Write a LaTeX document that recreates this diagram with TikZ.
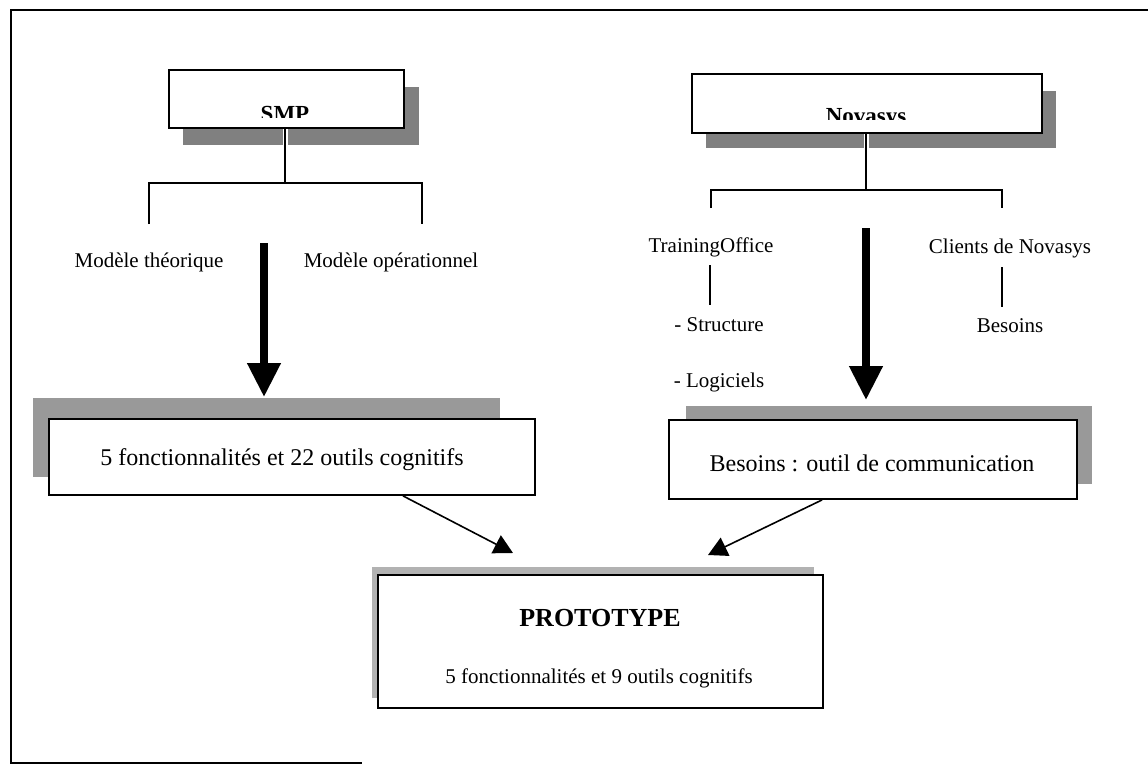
\documentclass[tikz,border=0pt]{standalone}
\usepackage{fontspec}
\setmainfont{Liberation Serif}
\usetikzlibrary{arrows.meta,calc}
\begin{document}
\begin{tikzpicture}[x=1pt,y=-1pt,
  shadowbox/.style={fill=black!50, draw=none, inner sep=0pt},
  lightshadow/.style={fill=black!40, draw=none, inner sep=0pt},
  box/.style={draw, fill=white, line width=1.8pt, inner sep=0pt},
  conn/.style={line width=1.3pt},
  frameline/.style={line width=1.5pt},
  bigarrow/.style={line width=7.5pt, -{Triangle[length=34pt 0 0,width=32pt 0 0]}},
  smallarrow/.style={line width=1.6pt, -{Triangle[length=19pt 0 0,width=20pt 0 0]}},
  lab/.style={font=\fontsize{21}{25}\selectfont, inner sep=0pt},
  boxtext/.style={font=\fontsize{24}{28}\selectfont},
  titletext/.style={font=\fontsize{23}{27}\selectfont\bfseries, inner sep=0pt, anchor=base}
]
\useasboundingbox (0,0) rectangle (1148,765);

% frame (cropped scan)
\draw[frameline] (1148,10) -- (11,10) -- (11,763) -- (362,763);

% ---------- SMP ----------
\node[shadowbox, minimum width=236pt, minimum height=58pt] (smpsh) at (301,116) {};
\node[box, minimum width=235pt, minimum height=58pt] (smp) at (286.5,99) {};
\begin{scope}
  \clip (171,72) rectangle (402,118);
  \node[titletext] (smpt) at (285,122) {SMP};
\end{scope}
\coordinate (smpj) at (285,183);
\coordinate (smpL) at (149,224);
\coordinate (smpR) at (422,224);
\draw[white, line width=5pt] (smp.south -| smpj) -- (smpsh.south -| smpj);
\draw[conn] (smp.south -| smpj) -- (smpj);
\draw[conn] (smpL) -- (smpL |- smpj) -- (smpR |- smpj) -- (smpR);

\node[lab] (theo) at (149,262) {Modèle théorique};
\node[lab] (oper) at (391,262) {Modèle opérationnel};

% ---------- Novasys ----------
\node[shadowbox, minimum width=350pt, minimum height=57pt] (novsh) at (881,119.5) {};
\node[box, minimum width=350pt, minimum height=59pt] (nov) at (867,103.5) {};
\begin{scope}
  \clip (694,76) rectangle (1040,120);
  \node[titletext] (novt) at (866,124) {Novasys};
\end{scope}
\coordinate (novj) at (866,190);
\coordinate (novL) at (711,208);
\coordinate (novR) at (1002,208);
\draw[white, line width=5pt] (nov.south -| novj) -- (novsh.south -| novj);
\draw[conn] (nov.south -| novj) -- (novj);
\draw[conn] (novL) -- (novL |- novj) -- (novR |- novj) -- (novR);

\node[lab] (train) at (711,247) {TrainingOffice};
\node[lab] (struct) at (719,325) {- Structure};
\node[lab] (logi) at (719,382) {- Logiciels};
\draw[conn] (710,265) -- (710,305);
\node[lab] (cli) at (1010,248) {Clients de Novasys};
\node[lab] (bes) at (1010,326) {Besoins};
\draw[conn] (1002,267) -- (1002,307);

% ---------- middle boxes ----------
\node[lightshadow, minimum width=467pt, minimum height=79pt] (lsh) at (266.5,437.5) {};
\node[box, boxtext, minimum width=486pt, minimum height=76pt] (lbox) at (292,457) {};
\node[boxtext, inner sep=0pt] (ltext) at (282,460) {5 fonctionnalités et 22 outils cognitifs};

\node[lightshadow, minimum width=406pt, minimum height=78pt] (rsh) at (889,445) {};
\node[box, boxtext, minimum width=408pt, minimum height=79pt] (rbox) at (873,459.5) {};
\node[boxtext, inner sep=0pt] (rtext) at (872,463) {Besoins : outil de communication};

% big arrows
\coordinate (bigLs) at (264,243);
\coordinate (bigLe) at (264,397);
\coordinate (bigRs) at (866,228);
\coordinate (bigRe) at (866,400);
\draw[bigarrow] (bigLs) -- (bigLe);
\draw[bigarrow] (bigRs) -- (bigRe);

% ---------- prototype ----------
\node[lightshadow, minimum width=442pt, minimum height=131pt, fill=black!30] (psh) at (593,632.5) {};
\node[box, minimum width=445pt, minimum height=133pt] (proto) at (600.5,641.5) {};
\node[font=\fontsize{26}{30}\selectfont\bfseries, inner sep=0pt] (ptitle) at (600,618) {PROTOTYPE};
\node[lab] (psub) at (599,678) {5 fonctionnalités et 9 outils cognitifs};

% small arrows
\coordinate (tipL) at (513,553);
\coordinate (tipR) at (708,555);
\draw[smallarrow] ([xshift=111pt]lbox.south) -- (tipL);
\draw[smallarrow] ([xshift=154pt]rbox.south west) -- (tipR);
\end{tikzpicture}
\end{document}
